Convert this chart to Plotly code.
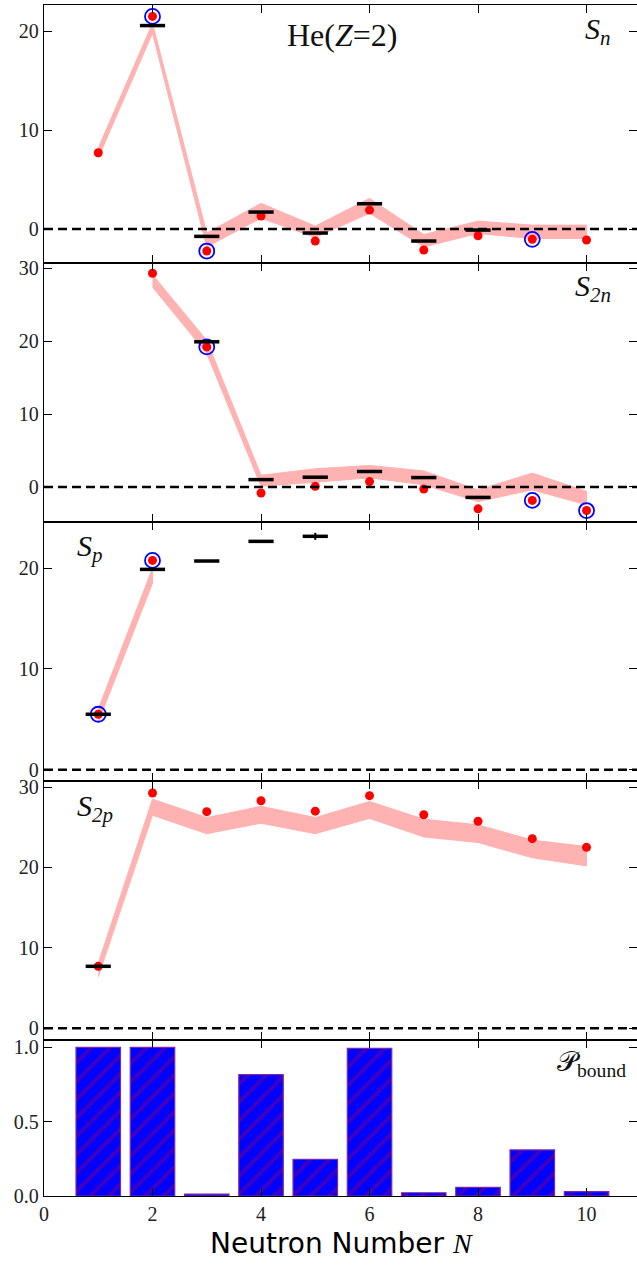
import plotly.graph_objects as go
from plotly.subplots import make_subplots

N = [1, 2, 3, 4, 5, 6, 7, 8, 9, 10]

# S_n panel
sn_model = [7.71, 21.5, -2.22, 1.31, -1.21, 1.92, -2.12, -0.67, -1.04, -1.11]
sn_lo = [7.2, 19.8, -1.8, 1.1, -0.85, 1.6, -1.8, -0.45, -0.95, -0.95]
sn_hi = [8.2, 20.8, -0.4, 2.6, 0.3, 3.1, -0.55, 0.8, 0.4, 0.4]
sn_exp = [None, 20.57, -0.74, 1.72, -0.40, 2.56, -1.21, -0.10, None, None]
sn_circ = [2, 3, 9]

# S_2n panel
s2n_model = [None, 29.3, 19.2, -0.83, 0.09, 0.74, -0.28, -3.0, -1.84, -3.23]
s2n_lo = [None, 27.4, 18.3, 0.1, 0.65, 1.25, 0.3, -2.0, -0.4, -2.45]
s2n_hi = [None, 29.1, 20.1, 1.6, 2.5, 2.95, 2.2, -0.4, 1.9, -0.6]
s2n_exp = [None, None, 19.9, 1.01, 1.34, 2.12, 1.29, -1.43, None, None]
s2n_circ = [3, 9, 10]

# S_p panel
sp_model = [5.5, 20.76, None, None, None, None, None, None, None, None]
sp_lo = [4.7, 18.5, None, None, None, None, None, None, None, None]
sp_hi = [6.0, 20.0, None, None, None, None, None, None, None, None]
sp_exp = [5.5, 19.87, 20.7, 22.65, 23.15, None, None, None, None, None]
sp_exp_err = [0, 0, 0, 0, 0.35, 0, 0, 0, 0, 0]
sp_circ = [1, 2]

# S_2p panel
s2p_model = [7.71, 29.26, 26.94, 28.3, 27.0, 28.93, 26.56, 25.74, 23.58, 22.5]
s2p_lo = [6.4, 26.5, 24.2, 25.5, 24.2, 26.1, 23.8, 23.1, 21.2, 20.2]
s2p_hi = [8.1, 28.5, 26.2, 27.6, 26.2, 28.2, 26.0, 25.3, 23.4, 22.6]
s2p_exp = [7.71, None, None, None, None, None, None, None, None, None]
s2p_circ = []

# P_bound panel
p_bound = [1.0, 1.0, 0.013, 0.816, 0.247, 0.993, 0.022, 0.058, 0.31, 0.029]

x_ticks = [0, 2, 4, 6, 8, 10]
y_ranges = [[-3.43, 22.65], [-4.8, 30.7], [-1.12, 24.57], [-1.45, 30.75], [0, 1.049]]
y_ticks = [[0, 10, 20], [0, 10, 20, 30], [0, 10, 20], [0, 10, 20, 30], [0.0, 0.5, 1.0]]

BAND = "#ffb2b2"
SERIF = "Liberation Serif"

fig = make_subplots(rows=5, cols=1, shared_xaxes=True, vertical_spacing=0,
                    row_heights=[258, 259, 259, 259, 156])

panels = [
    (sn_model, sn_lo, sn_hi, sn_exp, None, sn_circ),
    (s2n_model, s2n_lo, s2n_hi, s2n_exp, None, s2n_circ),
    (sp_model, sp_lo, sp_hi, sp_exp, sp_exp_err, sp_circ),
    (s2p_model, s2p_lo, s2p_hi, s2p_exp, None, s2p_circ),
]

for i, (model, lo, hi, exp, err, circ) in enumerate(panels):
    row = i + 1
    idx = [k for k in range(len(N)) if lo[k] is not None]
    bx = [N[k] for k in idx] + [N[k] for k in reversed(idx)]
    by = [hi[k] for k in idx] + [lo[k] for k in reversed(idx)]
    fig.add_trace(go.Scatter(x=bx, y=by, fill="toself", fillcolor=BAND,
                             line=dict(color=BAND, width=1), mode="lines",
                             hoverinfo="skip"), row=row, col=1)
    fig.add_shape(type="line", xref="x domain" if row == 1 else f"x{row} domain",
                  yref="y" if row == 1 else f"y{row}",
                  x0=0, x1=1, y0=0, y1=0,
                  line=dict(color="black", width=2.5, dash="9px,5px"))
    cx = [n for n in circ]
    cy = [model[N.index(n)] for n in circ]
    if cx:
        fig.add_trace(go.Scatter(x=cx, y=cy, mode="markers",
                                 marker=dict(symbol="circle-open", size=15,
                                             line=dict(color="#0000ff", width=1.8),
                                             color="#0000ff")), row=row, col=1)
    fig.add_trace(go.Scatter(x=N, y=model, mode="markers",
                             marker=dict(color="#ff0000", size=9)), row=row, col=1)
    ex_tr = dict(x=N, y=exp, mode="markers",
                 marker=dict(symbol="line-ew", size=18,
                             line=dict(color="black", width=3.5)))
    if err is not None:
        ex_tr["error_y"] = dict(type="data", array=err, color="black",
                                thickness=2, width=0)
    fig.add_trace(go.Scatter(**ex_tr), row=row, col=1)

fig.add_trace(go.Bar(x=N, y=p_bound, width=0.82,
                     marker=dict(color="#0000ff",
                                 line=dict(color="#7a2aa8", width=1.2),
                                 pattern=dict(shape="/", fgcolor="#800080",
                                              bgcolor="#0000ff", size=13,
                                              solidity=0.3))),
              row=5, col=1)

for r in range(1, 6):
    fig.update_xaxes(row=r, col=1, range=[0, 10.93], tickvals=x_ticks,
                     ticks="inside", ticklen=8, tickwidth=1.4, tickcolor="black",
                     showline=True, linecolor="black", linewidth=1.3, mirror="ticks",
                     showgrid=False, zeroline=False, automargin=False,
                     showticklabels=(r == 5),
                     tickfont=dict(family=SERIF, size=20, color="#222"))
    fig.update_yaxes(row=r, col=1, range=y_ranges[r - 1], tickvals=y_ticks[r - 1],
                     tickformat=".1f" if r == 5 else "d",
                     ticks="inside", ticklen=8, tickwidth=1.4, tickcolor="black",
                     showline=True, linecolor="black", linewidth=1.3, mirror="ticks",
                     showgrid=False, zeroline=False, automargin=False,
                     tickfont=dict(family=SERIF, size=20, color="#222"))

ann_font = dict(family=SERIF, size=30, color="#111")
annots = [
    dict(text="He(<i>Z</i>=2)", xref="x domain", yref="y domain", x=0.502, y=0.885,
         xanchor="center", yanchor="middle", font=dict(family=SERIF, size=32, color="#111")),
    dict(text="<i>S<sub>n</sub></i>", xref="x domain", yref="y domain", x=0.96, y=0.9,
         xanchor="right", yanchor="middle", font=ann_font),
    dict(text="<i>S<sub>2n</sub></i>", xref="x2 domain", yref="y2 domain", x=0.96, y=0.905,
         xanchor="right", yanchor="middle", font=ann_font),
    dict(text="<i>S<sub>p</sub></i>", xref="x3 domain", yref="y3 domain", x=0.052, y=0.9,
         xanchor="left", yanchor="middle", font=ann_font),
    dict(text="<i>S<sub>2p</sub></i>", xref="x4 domain", yref="y4 domain", x=0.052, y=0.895,
         xanchor="left", yanchor="middle", font=ann_font),
    dict(text="\U0001D4AB<sub>bound</sub>", xref="x5 domain", yref="y5 domain", x=0.985, y=0.85,
         xanchor="right", yanchor="middle", font=dict(family=SERIF, size=28, color="#111")),
    dict(text="Neutron Number <i><span style='font-family:Liberation Serif'>N</span></i>",
         xref="paper", yref="paper", x=0.502, y=-0.0395,
         xanchor="center", yanchor="middle",
         font=dict(family="DejaVu Sans", size=28, color="black")),
]
for a in annots:
    a["showarrow"] = False
    fig.add_annotation(**a)

fig.update_layout(width=637, height=1269, showlegend=False,
                  plot_bgcolor="white", paper_bgcolor="white",
                  margin=dict(l=44, r=0, t=5, b=73, autoexpand=False), bargap=0.18)

fig.write_html("out.html", config={"displayModeBar": False},
               post_script="document.body.style.margin='0';document.body.style.overflow='hidden';")
